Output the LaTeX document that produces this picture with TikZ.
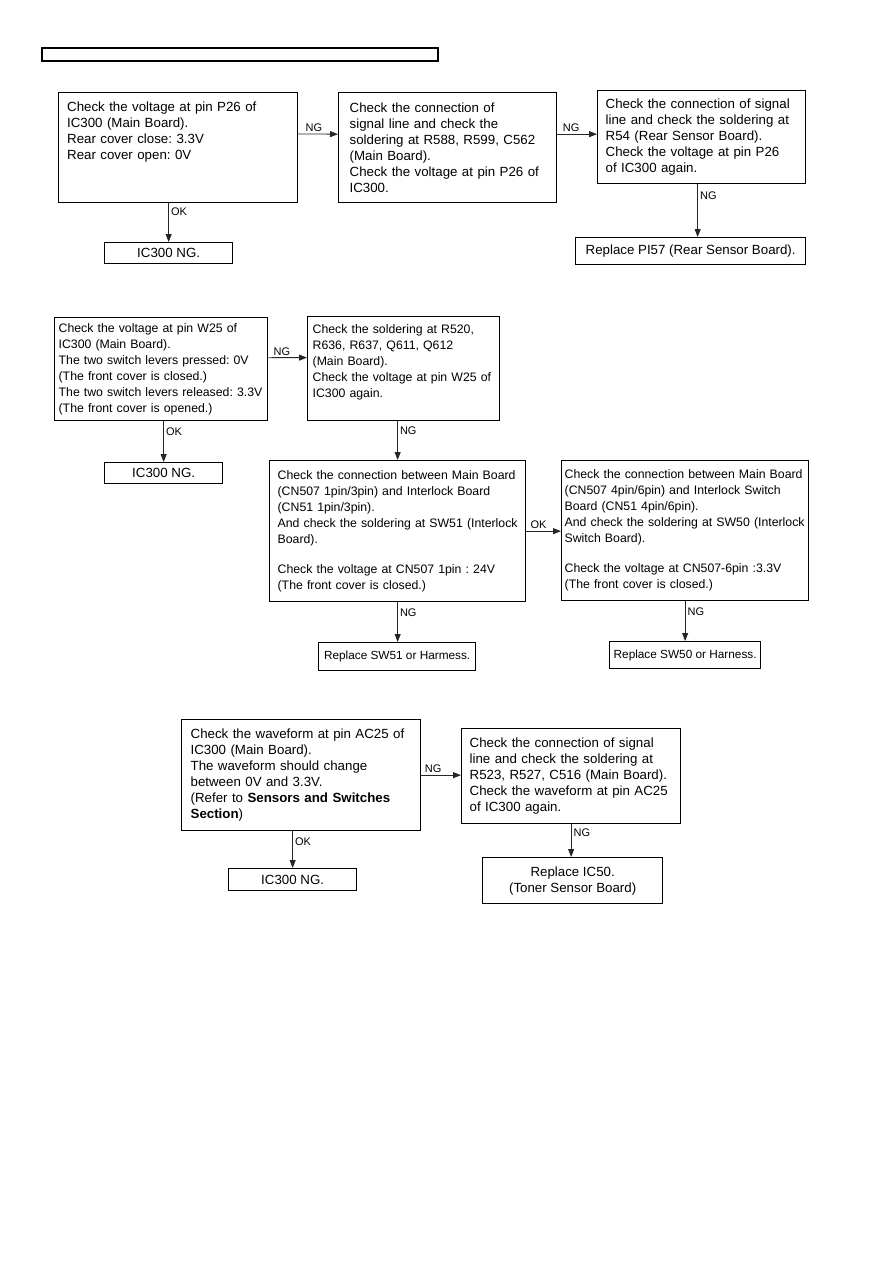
\documentclass[tikz,border=0pt]{standalone}
\usepackage{fontspec}
\setmainfont{Liberation Sans}
\usetikzlibrary{arrows.meta}
\frenchspacing

\begin{document}
\begin{tikzpicture}[x=1pt, y=-1pt,
    chkbox/.style={rectangle, draw=black, line width=1.3pt, anchor=north west, align=left, inner ysep=4pt},
    endbox/.style={rectangle, draw=black, line width=1.3pt, anchor=north west, align=center, inner sep=2pt},
    big/.style={font=\fontsize{13.3}{16}\selectfont},
    mid/.style={font=\fontsize{12.3}{16}\selectfont},
    narrow/.style={font=\fontsize{11.8}{14}\selectfont},
    tag/.style={font=\fontsize{11}{13}\selectfont, inner sep=2pt},
    arrow/.style={line width=0.8pt, draw=black!85, -{Triangle[length=8pt, width=6pt]}}
  ]
  \useasboundingbox (0,0) rectangle (893,1263);
  % header frame
  \draw[line width=1.2pt] (42,48) rectangle (438,61);

  % Rear cover sensor
  \node (a1) [chkbox, big, inner xsep=9pt, inner ysep=9pt, text width=221pt, text depth=82pt] at (57.5,92) {Check the voltage at pin P26 of\\IC300 (Main Board).\\Rear cover close: 3.3V\\Rear cover open: 0V};
  \node (a2) [chkbox, big, inner xsep=11pt, text width=196pt, minimum height=110pt] at (338,92) {Check the connection of\\signal line and check the\\soldering at R588, R599, C562\\(Main Board).\\Check the voltage at pin P26 of\\IC300.};
  \node (a3) [chkbox, big, inner xsep=8pt, text width=192pt, minimum height=93pt] at (597,90) {Check the connection of signal\\line and check the soldering at\\R54 (Rear Sensor Board).\\Check the voltage at pin P26\\of IC300 again.};
  \node (b1) [endbox, big, minimum width=128pt, minimum height=21pt] at (104,242) {IC300 NG.};
  \node (b3) [endbox, big, minimum width=230pt, minimum height=27pt] at (575,237) {Replace PI57 (Rear Sensor Board).};

  \draw [arrow] ([yshift=13.5pt]a1.east) -- node[tag, pos=0.4, above] {NG} ([yshift=13.5pt]a2.west);
  \draw [arrow] ([yshift=13.5pt]a2.east) -- node[tag, pos=0.35, above] {NG} ([yshift=3pt]a3.west);
  \draw [arrow] (a1.south -| b1.north) -- node[tag, pos=0.22, right] {OK} (b1.north);
  \draw [arrow] ([xshift=-4pt]a3.south) -- node[tag, pos=0.22, right] {NG} ([xshift=-4pt]a3.south |- b3.north);

  % Front cover interlock
  \node (c1) [chkbox, mid, inner xsep=4pt, inner ysep=3pt, text width=205pt, minimum height=103pt] at (54,317) {Check the voltage at pin W25 of\\IC300 (Main Board).\\The two switch levers pressed: 0V\\(The front cover is closed.)\\The two switch levers released: 3.3V\\(The front cover is opened.)};
  \node (c2) [chkbox, mid, inner xsep=5pt, inner ysep=7.5pt, text width=182pt, text depth=80pt] at (307,316) {Check the soldering at R520,\\R636, R637, Q611, Q612\\(Main Board).\\Check the voltage at pin W25 of\\IC300 again.};
  \node (d1) [endbox, big, minimum width=118pt, minimum height=21pt] at (104,462) {IC300 NG.};
  \node (c3) [chkbox, mid, inner xsep=8pt, text width=240pt, minimum height=141pt] at (269,460) {Check the connection between Main Board\\(CN507 1pin/3pin) and Interlock Board\\(CN51 1pin/3pin).\\And check the soldering at SW51 (Interlock\\Board).\\[14pt]Check the voltage at CN507 1pin : 24V\\(The front cover is closed.)};
  \node (c4) [chkbox, mid, inner xsep=3pt, text width=241pt, minimum height=140pt] at (561,460) {Check the connection between Main Board\\(CN507 4pin/6pin) and Interlock Switch\\Board (CN51 4pin/6pin).\\And check the soldering at SW50 (Interlock\\Switch Board).\\[14pt]Check the voltage at CN507-6pin :3.3V\\(The front cover is closed.)};
  \node (e1) [endbox, narrow, minimum width=157pt, minimum height=28pt] at (318,642) {Replace SW51 or Harmess.};
  \node (e2) [endbox, narrow, minimum width=151pt, minimum height=27pt] at (609,641) {Replace SW50 or Harness.};

  \draw [arrow] ([yshift=11.5pt]c1.east) -- node[tag, pos=0.35, above] {NG} ([yshift=11pt]c2.west);
  \draw [arrow] (c1.south -| d1.north) -- node[tag, pos=0.25, right] {OK} (d1.north);
  \draw [arrow] (c2.south -| c3.north) -- node[tag, pos=0.25, right] {NG} (c3.north);
  \draw [arrow] (c3.east) -- node[tag, pos=0.35, above] {OK} (c3.east -| c4.west);
  \draw [arrow] (c3.south) -- node[tag, pos=0.27, right] {NG} (c3.south |- e1.north);
  \draw [arrow] (c4.south) -- node[tag, pos=0.27, right] {NG} (c4.south |- e2.north);

  % Toner sensor
  \node (f1) [chkbox, big, inner xsep=9pt, text width=221pt, minimum height=111pt] at (181,719) {Check the waveform at pin AC25 of\\IC300 (Main Board).\\The waveform should change\\between 0V and 3.3V.\\(Refer to \textbf{Sensors and Switches}\\\textbf{Section})};
  \node (f2) [chkbox, big, inner xsep=8pt, text width=203pt, minimum height=95pt] at (461,728) {Check the connection of signal\\line and check the soldering at\\R523, R527, C516 (Main Board).\\Check the waveform at pin AC25\\of IC300 again.};
  \node (g1) [endbox, big, minimum width=128pt, minimum height=22pt] at (228,868) {IC300 NG.};
  \node (g2) [endbox, big, minimum width=180pt, minimum height=46pt] at (482,857) {Replace IC50.\\(Toner Sensor Board)};

  \draw [arrow] (f1.east) -- node[tag, pos=0.3, above] {NG} (f1.east -| f2.west);
  \draw [arrow] (f1.south -| g1.north) -- node[tag, pos=0.29, right] {OK} (g1.north);
  \draw [arrow] (f2.south) -- node[tag, pos=0.26, right] {NG} (f2.south |- g2.north);
\end{tikzpicture}
\end{document}
